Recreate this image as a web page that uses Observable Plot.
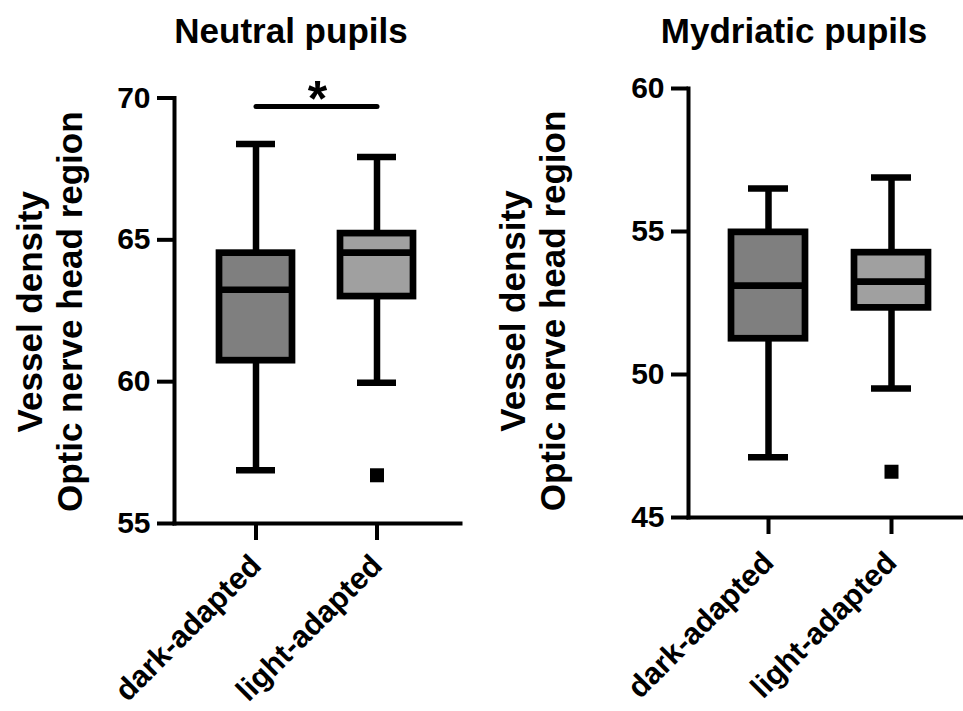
<!DOCTYPE html>
<html><head><meta charset="utf-8">
<script src="https://cdn.jsdelivr.net/npm/d3@7"></script>
<script src="https://cdn.jsdelivr.net/npm/@observablehq/plot@0.6"></script>
<style>
body{margin:0;background:#fff;font-family:"Liberation Sans",Arial,sans-serif;}
#wrap{position:relative;width:963px;height:711px;overflow:hidden;background:#fff;}
.panel{position:absolute;top:0;}
.title{position:absolute;top:13px;font-weight:bold;font-size:35px;line-height:35px;white-space:nowrap;transform:translateX(-50%);color:#000;}
svg{overflow:visible;}
</style></head>
<body><div id="wrap"></div>
<script>
const groups = ["dark-adapted", "light-adapted"];
const boxFills = ["#7f7f7f", "#a0a0a0"];
const yLabel = "Vessel density\nOptic nerve head region";

// Neutral pupils
const neutralTitle = "Neutral pupils";
const neutralMin = [56.88, 59.96];
const neutralQ1 = [60.74, 63.0];
const neutralMedian = [63.24, 64.55];
const neutralQ3 = [64.53, 65.22];
const neutralMax = [68.38, 67.92];
const neutralOutlierGroups = ["light-adapted"];
const neutralOutlierValues = [56.7];
const neutralTicks = [55, 60, 65, 70];
const neutralSigLabel = ["*"];
const neutralSigY = [69.7];
const neutralSigStarY = [69.35];

// Mydriatic pupils
const mydTitle = "Mydriatic pupils";
const mydMin = [47.11, 49.51];
const mydQ1 = [51.25, 52.33];
const mydMedian = [53.11, 53.25];
const mydQ3 = [54.97, 54.26];
const mydMax = [56.5, 56.89];
const mydOutlierGroups = ["light-adapted"];
const mydOutlierValues = [46.6];
const mydTicks = [45, 50, 55, 60];

const FONT = '"Liberation Sans", Arial, Helvetica, sans-serif';

function makePanel(cfg) {
  const rows = groups.map((g, i) => ({
    group: g, min: cfg.min[i], q1: cfg.q1[i], med: cfg.med[i], q3: cfg.q3[i], max: cfg.max[i]
  }));
  const outliers = cfg.outGroups.map((g, i) => ({group: g, value: cfg.outValues[i]}));
  const marks = [
    Plot.ruleX(rows, {x: "group", y1: "min", y2: "max", stroke: "black", strokeWidth: 6.5}),
    Plot.tickY(rows, {x: "group", y: "min", insetLeft: 17, insetRight: 17, stroke: "black", strokeWidth: 6.5}),
    Plot.tickY(rows, {x: "group", y: "max", insetLeft: 17, insetRight: 17, stroke: "black", strokeWidth: 6.5}),
    Plot.barY(rows, {x: "group", y1: "q1", y2: "q3", fill: "group", stroke: "black", strokeWidth: 6.7}),
    Plot.tickY(rows, {x: "group", y: "med", stroke: "black", strokeWidth: 6.7}),
    Plot.dot(outliers, {x: "group", y: "value", symbol: "square", r: 7.9, fill: "black", stroke: null}),
    Plot.frame({anchor: "left", stroke: "black", strokeWidth: 4}),
    Plot.frame({anchor: "bottom", stroke: "black", strokeWidth: 4}),
    Plot.axisY({ticks: cfg.ticks, tickSize: 17, tickPadding: 7, strokeWidth: 4, fontSize: 30, fontWeight: "bold", tickFormat: d => String(d), label: null}),
    Plot.axisX({tickSize: 17, tickPadding: cfg.xPad, tickRotate: -45, strokeWidth: 4, fontSize: 30.5, fontWeight: "bold", label: null}),
    Plot.text([yLabel], {text: d => d, frameAnchor: "left", textAnchor: "middle", lineAnchor: "middle", rotate: -90, dx: cfg.labelDx, dy: cfg.labelDy, fontSize: 35, fontWeight: "bold", lineHeight: 1.13, fill: "black"})
  ];
  if (cfg.sigY) {
    marks.push(Plot.line(groups.map((g) => ({group: g, y: cfg.sigY[0]})), {x: "group", y: "y", stroke: "black", strokeWidth: 5}));
    marks.push(Plot.text(cfg.sigLabel, {text: d => d, frameAnchor: "top", lineAnchor: "bottom", y: cfg.sigStarY, fontSize: 50, fontWeight: "bold", fill: "black"}));
  }
  return Plot.plot({
    width: cfg.width, height: 711,
    marginLeft: cfg.marginLeft, marginRight: cfg.marginRight, marginTop: cfg.marginTop, marginBottom: cfg.marginBottom,
    x: {type: "band", domain: groups, range: cfg.xRange, padding: 0.4, axis: null},
    y: {domain: cfg.domain, axis: null},
    color: {domain: groups, range: boxFills},
    style: {fontFamily: FONT, fontWeight: "bold", color: "black", background: "transparent", overflow: "visible"},
    marks
  });
}

const wrap = document.getElementById("wrap");

function addPanel(left, cfg, title, titleX) {
  const div = document.createElement("div");
  div.className = "panel";
  div.style.left = left + "px";
  div.appendChild(makePanel(cfg));
  wrap.appendChild(div);
  const t = document.createElement("div");
  t.className = "title";
  t.style.left = titleX + "px";
  t.textContent = title;
  wrap.appendChild(t);
}

addPanel(0, {
  width: 480, marginLeft: 174, marginRight: 20, marginTop: 97.5, marginBottom: 188,
  xRange: [169.6, 462.4], domain: [55, 70], ticks: neutralTicks, xPad: 20,
  min: neutralMin, q1: neutralQ1, med: neutralMedian, q3: neutralQ3, max: neutralMax,
  outGroups: neutralOutlierGroups, outValues: neutralOutlierValues,
  labelDx: -125, labelDy: 1,
  sigY: neutralSigY, sigLabel: neutralSigLabel, sigStarY: neutralSigStarY
}, neutralTitle, 291);

addPanel(480, {
  width: 483, marginLeft: 208, marginRight: 0, marginTop: 88, marginBottom: 194,
  xRange: [201.9, 497.1], domain: [45, 60], ticks: mydTicks, xPad: 23,
  min: mydMin, q1: mydQ1, med: mydMedian, q3: mydQ3, max: mydMax,
  outGroups: mydOutlierGroups, outValues: mydOutlierValues,
  labelDx: -156, labelDy: 8
}, mydTitle, 794);
</script>
</body></html>
